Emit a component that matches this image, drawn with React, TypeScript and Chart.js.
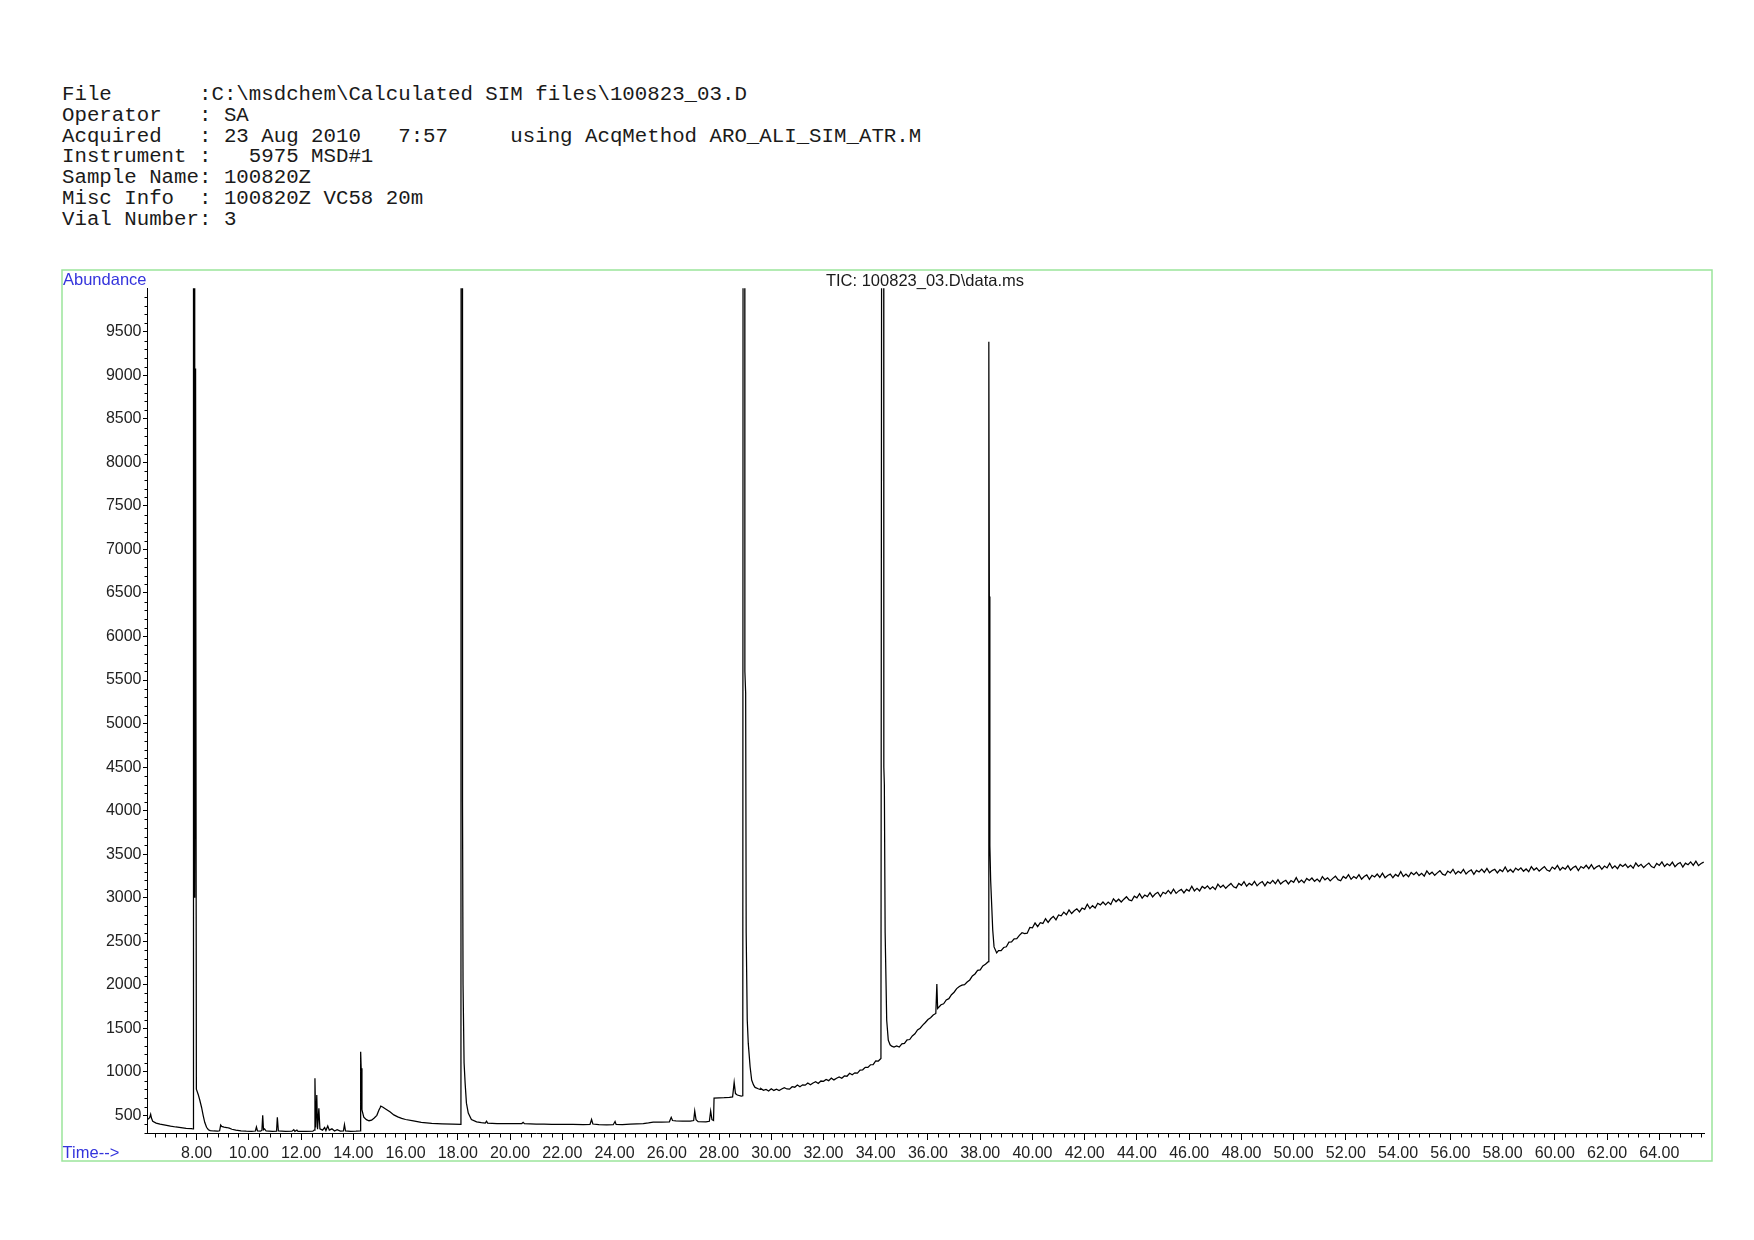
import React, { useEffect, useRef } from "react";
import { Chart, registerables } from "chart.js";

Chart.register(...registerables);

// ---------- header text ----------
const headerLines: string[] = [
  "File       :C:\\msdchem\\Calculated SIM files\\100823_03.D",
  "Operator   : SA",
  "Acquired   : 23 Aug 2010   7:57     using AcqMethod ARO_ALI_SIM_ATR.M",
  "Instrument :   5975 MSD#1",
  "Sample Name: 100820Z",
  "Misc Info  : 100820Z VC58 20m",
  "Vial Number: 3",
];
const chartTitle = "TIC: 100823_03.D\\data.ms";
const yAxisTitle = "Abundance";
const xAxisTitle = "Time-->";

// ---------- axes ----------
const xTickLabels: number[] = [8, 10, 12, 14, 16, 18, 20, 22, 24, 26, 28, 30, 32, 34, 36, 38, 40, 42, 44, 46, 48, 50, 52, 54, 56, 58, 60, 62, 64];
const yTickLabels: number[] = [500, 1000, 1500, 2000, 2500, 3000, 3500, 4000, 4500, 5000, 5500, 6000, 6500, 7000, 7500, 8000, 8500, 9000, 9500];
const xRange = [6.1, 65.73];
const yRange = [297, 10000];
const xMinorStep = 0.4;
const yMinorStep = 100;

// ---------- TIC trace, [time (min), abundance] ----------
const startBaseline: [number, number][] = [
  [6.1, 452], [6.15, 458], [6.2, 472], [6.24, 512], [6.27, 468], [6.32, 432], [6.45, 410], [6.6, 398],
  [6.8, 388], [7.0, 376], [7.2, 366], [7.4, 358], [7.6, 351], [7.8, 346], [7.87, 343],
];
const peak8: [number, number][] = [
  [7.88, 20000], [7.91, 20000], [7.92, 9800], [7.935, 3000], [7.96, 9080], [7.99, 800],
  [8.06, 740], [8.12, 676], [8.19, 590], [8.25, 500], [8.31, 420], [8.38, 363], [8.45, 335], [8.52, 324],
];
const earlyMinor: [number, number][] = [
  [8.65, 320], [8.8, 318], [8.88, 322], [8.92, 389], [8.96, 372], [9.05, 365], [9.15, 360], [9.25, 352],
  [9.35, 340], [9.5, 330], [9.7, 322], [9.9, 318], [10.1, 316], [10.25, 320], [10.29, 366], [10.33, 322],
  [10.45, 318], [10.5, 330], [10.53, 500], [10.56, 335], [10.6, 345], [10.66, 320], [10.9, 316], [11.06, 318],
  [11.09, 477], [11.13, 320], [11.4, 315], [11.65, 318], [11.72, 335], [11.76, 316], [11.84, 330], [11.88, 315],
  [12.2, 316], [12.45, 318], [12.5, 330], [12.53, 925], [12.56, 360], [12.6, 733], [12.63, 340], [12.68, 580],
  [12.72, 345], [12.82, 330], [12.9, 360], [12.95, 325], [13.02, 377], [13.08, 330], [13.18, 345], [13.28, 320],
  [13.38, 335], [13.5, 318], [13.62, 320], [13.66, 394], [13.7, 320], [13.9, 316], [14.1, 318], [14.26, 322],
];
const peak14: [number, number][] = [
  [14.28, 1230], [14.3, 1040], [14.33, 561], [14.4, 480], [14.5, 450], [14.6, 438], [14.7, 445], [14.8, 470],
  [14.9, 500], [14.98, 560], [15.02, 585], [15.05, 606], [15.12, 595], [15.25, 570], [15.4, 540], [15.55, 505],
  [15.7, 482], [15.85, 465], [16.0, 452], [16.3, 435], [16.6, 420], [17.0, 408], [17.4, 402], [17.8, 398], [18.12, 395],
];
const peak18: [number, number][] = [
  [18.13, 20000], [18.17, 20000], [18.18, 4100], [18.2, 2000], [18.24, 1100], [18.28, 867], [18.33, 640],
  [18.4, 525], [18.52, 452], [18.72, 425], [18.9, 415], [19.05, 410], [19.1, 433], [19.14, 410], [19.5, 405],
  [19.9, 406], [20.2, 404], [20.45, 406], [20.5, 420], [20.55, 404], [21.0, 400], [21.3, 398], [21.6, 396],
  [22.0, 397], [22.4, 395], [22.8, 394], [23.06, 396], [23.12, 452], [23.17, 400], [23.4, 392], [23.7, 390],
  [23.95, 392], [24.02, 429], [24.06, 395], [24.3, 393], [24.6, 398], [24.85, 402], [25.1, 405], [25.3, 412],
  [25.48, 421], [25.8, 423], [26.1, 425], [26.17, 477], [26.22, 440], [26.35, 435], [26.6, 433], [26.9, 434],
  [27.03, 440], [27.07, 549], [27.12, 450], [27.2, 428], [27.5, 425], [27.63, 432], [27.68, 549], [27.73, 450],
  [27.79, 440], [27.81, 698], [28.0, 700], [28.2, 702], [28.4, 706], [28.52, 712], [28.58, 879], [28.63, 750],
  [28.7, 733], [28.85, 721], [28.91, 725],
];
const peak29: [number, number][] = [
  [28.93, 20000], [28.98, 20000], [28.99, 5600], [29.02, 5350], [29.04, 2600], [29.08, 1600], [29.12, 1326],
  [29.19, 1058], [29.25, 905], [29.32, 850], [29.38, 821], [29.5, 805], [29.57, 798],
  [29.6, 809], [29.7, 787], [29.8, 798], [29.9, 780], [30.0, 806], [30.1, 786], [30.2, 799], [30.3, 784],
  [30.4, 802], [30.5, 818], [30.6, 803], [30.7, 800], [30.8, 829], [30.9, 823], [31.0, 849], [31.1, 828],
  [31.2, 850], [31.3, 846], [31.4, 872], [31.5, 852], [31.6, 872], [31.7, 886], [31.8, 866], [31.9, 894],
  [32.0, 890], [32.1, 912], [32.2, 898], [32.3, 927], [32.4, 907], [32.5, 926], [32.6, 940], [32.7, 926],
  [32.8, 952], [32.9, 949], [33.0, 983], [33.1, 966], [33.2, 988], [33.3, 984], [33.4, 1020], [33.5, 1023],
  [33.6, 1051], [33.7, 1051], [33.8, 1081], [33.9, 1082], [34.0, 1125], [34.1, 1124], [34.2, 1152],
];
const peak34: [number, number][] = [
  [34.25, 20000], [34.3, 20000], [34.31, 4500], [34.33, 4300], [34.36, 2600], [34.42, 1593], [34.48, 1364],
  [34.55, 1310], [34.61, 1295], [34.7, 1285], [34.8, 1297], [34.9, 1284], [35.0, 1322], [35.1, 1326],
  [35.2, 1366], [35.3, 1371], [35.4, 1412], [35.5, 1436], [35.6, 1481], [35.7, 1500], [35.8, 1536],
  [35.9, 1566], [36.0, 1601], [36.1, 1621], [36.2, 1652], [36.3, 1670], [36.34, 2007], [36.37, 1727],
  [36.5, 1770], [36.6, 1781], [36.7, 1826], [36.8, 1840], [36.9, 1886], [37.0, 1914], [37.1, 1956],
  [37.2, 1980], [37.3, 1996], [37.4, 2001], [37.5, 2031], [37.6, 2055], [37.7, 2101], [37.8, 2124],
  [37.9, 2166], [38.0, 2170], [38.1, 2216], [38.2, 2236], [38.31, 2265],
];
const peak38: [number, number][] = [
  [38.33, 9385], [38.35, 6460], [38.37, 3600], [38.4, 3200], [38.48, 2626], [38.53, 2435], [38.63, 2366],
];
const plateau: [number, number][] = [
  [38.7, 2391], [38.8, 2391], [38.9, 2428], [39.0, 2436], [39.1, 2489], [39.2, 2491], [39.3, 2526], [39.4, 2530],
  [39.5, 2567], [39.6, 2597], [39.7, 2588], [39.8, 2592], [39.9, 2659], [40.0, 2654], [40.1, 2709], [40.2, 2668],
  [40.3, 2712], [40.4, 2704], [40.5, 2758], [40.6, 2717], [40.7, 2758], [40.8, 2786], [40.9, 2745], [41.0, 2802],
  [41.1, 2792], [41.2, 2834], [41.3, 2804], [41.4, 2860], [41.5, 2818], [41.6, 2850], [41.7, 2872], [41.8, 2836],
  [41.9, 2881], [42.0, 2866], [42.1, 2925], [42.2, 2875], [42.3, 2908], [42.4, 2882], [42.5, 2936], [42.6, 2918],
  [42.7, 2951], [42.8, 2918], [42.9, 2949], [43.0, 2923], [43.1, 2987], [43.2, 2953], [43.3, 2982], [43.4, 2950],
  [43.5, 2983], [43.6, 3011], [43.7, 2975], [43.8, 2965], [43.9, 3018], [44.0, 2999], [44.1, 3045], [44.2, 2995],
  [44.3, 3030], [44.4, 3013], [44.5, 3058], [44.6, 3009], [44.7, 3042], [44.8, 3062], [44.9, 3013], [45.0, 3062],
  [45.1, 3046], [45.2, 3083], [45.3, 3047], [45.4, 3098], [45.5, 3050], [45.6, 3078], [45.7, 3095], [45.8, 3055],
  [45.9, 3095], [46.0, 3076], [46.1, 3132], [46.2, 3078], [46.3, 3108], [46.4, 3078], [46.5, 3129], [46.6, 3107],
  [46.7, 3136], [46.8, 3098], [46.9, 3125], [47.0, 3095], [47.1, 3156], [47.2, 3118], [47.3, 3144], [47.4, 3108],
  [47.5, 3138], [47.6, 3164], [47.7, 3125], [47.8, 3113], [47.9, 3163], [48.0, 3142], [48.1, 3185], [48.2, 3132],
  [48.3, 3164], [48.4, 3145], [48.5, 3187], [48.6, 3136], [48.7, 3167], [48.8, 3185], [48.9, 3135], [49.0, 3182],
  [49.1, 3164], [49.2, 3198], [49.3, 3160], [49.4, 3208], [49.5, 3158], [49.6, 3184], [49.7, 3200], [49.8, 3158],
  [49.9, 3197], [50.0, 3176], [50.1, 3230], [50.2, 3175], [50.3, 3203], [50.4, 3172], [50.5, 3221], [50.6, 3198],
  [50.7, 3226], [50.8, 3188], [50.9, 3214], [51.0, 3183], [51.1, 3243], [51.2, 3205], [51.3, 3229], [51.4, 3193],
  [51.5, 3222], [51.6, 3247], [51.7, 3207], [51.8, 3194], [51.9, 3244], [52.0, 3222], [52.1, 3265], [52.2, 3211],
  [52.3, 3243], [52.4, 3223], [52.5, 3264], [52.6, 3213], [52.7, 3244], [52.8, 3261], [52.9, 3210], [53.0, 3257],
  [53.1, 3238], [53.2, 3272], [53.3, 3233], [53.4, 3281], [53.5, 3230], [53.6, 3256], [53.7, 3271], [53.8, 3229],
  [53.9, 3267], [54.0, 3246], [54.1, 3300], [54.2, 3244], [54.3, 3272], [54.4, 3240], [54.5, 3289], [54.6, 3265],
  [54.7, 3293], [54.8, 3254], [54.9, 3280], [55.0, 3248], [55.1, 3307], [55.2, 3269], [55.3, 3293], [55.4, 3257],
  [55.5, 3285], [55.6, 3310], [55.7, 3270], [55.8, 3257], [55.9, 3306], [56.0, 3284], [56.1, 3326], [56.2, 3272],
  [56.3, 3304], [56.4, 3283], [56.5, 3324], [56.6, 3272], [56.7, 3302], [56.8, 3320], [56.9, 3268], [57.0, 3314],
  [57.1, 3295], [57.2, 3328], [57.3, 3290], [57.4, 3337], [57.5, 3286], [57.6, 3311], [57.7, 3326], [57.8, 3284],
  [57.9, 3322], [58.0, 3300], [58.1, 3353], [58.2, 3297], [58.3, 3324], [58.4, 3292], [58.5, 3340], [58.6, 3316],
  [58.7, 3343], [58.8, 3304], [58.9, 3330], [59.0, 3298], [59.1, 3357], [59.2, 3318], [59.3, 3342], [59.4, 3305],
  [59.5, 3333], [59.6, 3357], [59.7, 3317], [59.8, 3303], [59.9, 3352], [60.0, 3329], [60.1, 3371], [60.2, 3317],
  [60.3, 3348], [60.4, 3327], [60.5, 3368], [60.6, 3316], [60.7, 3346], [60.8, 3363], [60.9, 3311], [61.0, 3358],
  [61.1, 3339], [61.2, 3372], [61.3, 3333], [61.4, 3380], [61.5, 3329], [61.6, 3354], [61.7, 3369], [61.8, 3326],
  [61.9, 3364], [62.0, 3342], [62.1, 3395], [62.2, 3339], [62.3, 3366], [62.4, 3334], [62.5, 3382], [62.6, 3358],
  [62.7, 3385], [62.8, 3346], [62.9, 3371], [63.0, 3339], [63.1, 3398], [63.2, 3359], [63.3, 3383], [63.4, 3346],
  [63.5, 3374], [63.6, 3398], [63.7, 3358], [63.8, 3344], [63.9, 3393], [64.0, 3370], [64.1, 3412], [64.2, 3358],
  [64.3, 3389], [64.4, 3368], [64.5, 3409], [64.6, 3357], [64.7, 3387], [64.8, 3404], [64.9, 3352], [65.0, 3397],
  [65.1, 3378], [65.2, 3411], [65.3, 3372], [65.4, 3419], [65.5, 3368], [65.6, 3393], [65.7, 3408],
];

const ticTrace: [number, number][] = [
  ...startBaseline, ...peak8, ...earlyMinor, ...peak14, ...peak18, ...peak29, ...peak34, ...peak38, ...plateau,
];

// ---------- layout (page pixels) ----------
const CANVAS_LEFT = 61;
const CANVAS_TOP = 269;
const CANVAS_W = 1652;
const CANVAS_H = 893;

const sansFont = "'Liberation Sans', Arial, sans-serif";
const monoFont = "'Liberation Mono', 'Courier New', monospace";
const blue = "#3434dc";

const frameAndMinorTicks = {
  id: "frameAndMinorTicks",
  beforeDraw(chart: any) {
    const ctx = chart.ctx;
    ctx.save();
    ctx.fillStyle = "#ffffff";
    ctx.fillRect(0, 0, chart.width, chart.height);
    ctx.strokeStyle = "#9be59b";
    ctx.lineWidth = 1.5;
    ctx.strokeRect(1, 1, chart.width - 2, chart.height - 2);
    ctx.restore();
  },
  afterDraw(chart: any) {
    const ctx = chart.ctx;
    const xs = chart.scales.x;
    const ys = chart.scales.y;
    const area = chart.chartArea;
    ctx.save();
    ctx.strokeStyle = "#000";
    ctx.lineWidth = 1;
    ctx.beginPath();
    for (let i = 0; ; i++) {
      const v = Math.ceil(yRange[0] / yMinorStep) * yMinorStep + i * yMinorStep;
      if (v > yRange[1]) break;
      if (v % 500 === 0) continue;
      const py = Math.round(ys.getPixelForValue(v)) + 0.5;
      ctx.moveTo(area.left - 2.5, py);
      ctx.lineTo(area.left, py);
    }
    for (let i = 0; ; i++) {
      const t = Math.ceil(xRange[0] / xMinorStep) * xMinorStep + i * xMinorStep;
      if (t > xRange[1]) break;
      const r = Math.round(t * 10) / 10;
      if (Math.abs(r / 2 - Math.round(r / 2)) < 1e-6) continue;
      const px = Math.round(xs.getPixelForValue(r)) + 0.5;
      ctx.moveTo(px, area.bottom);
      ctx.lineTo(px, area.bottom + 4.5);
    }
    ctx.stroke();
    ctx.restore();
  },
};

function TicChart() {
  const ref = useRef<HTMLCanvasElement | null>(null);
  useEffect(() => {
    if (!ref.current) return;
    const chart = new Chart(ref.current, {
      type: "line",
      data: {
        datasets: [
          {
            data: ticTrace.map(([x, y]) => ({ x, y })),
            borderColor: "#000",
            borderWidth: 1.25,
            pointRadius: 0,
            tension: 0,
            fill: false,
            clip: 0,
          } as any,
        ],
      },
      options: {
        responsive: false,
        animation: false,
        events: [],
        layout: { padding: { left: 0, top: 19.3, right: 8.5, bottom: 0 } },
        plugins: { legend: { display: false }, tooltip: { enabled: false }, title: { display: false } },
        scales: {
          x: {
            type: "linear",
            min: xRange[0],
            max: xRange[1],
            afterBuildTicks: (s: any) => {
              s.ticks = xTickLabels.map((v) => ({ value: v }));
            },
            afterFit: (s: any) => {
              s.height = 29;
            },
            ticks: {
              callback: (v: any) => Number(v).toFixed(2),
              font: { family: sansFont, size: 16 },
              color: "#222",
              padding: 4,
              maxRotation: 0,
              autoSkip: false,
            },
            grid: { drawOnChartArea: false, drawTicks: true, tickLength: 7, color: "#000", tickColor: "#000" },
            border: { display: true, color: "#000", width: 1 },
          },
          y: {
            type: "linear",
            min: yRange[0],
            max: yRange[1],
            afterBuildTicks: (s: any) => {
              s.ticks = yTickLabels.map((v) => ({ value: v }));
            },
            afterFit: (s: any) => {
              s.width = 86;
            },
            ticks: {
              callback: (v: any) => String(v),
              font: { family: sansFont, size: 16 },
              color: "#222",
              padding: 1.5,
              autoSkip: false,
            },
            grid: { drawOnChartArea: false, drawTicks: true, tickLength: 4, color: "#000", tickColor: "#000" },
            border: { display: true, color: "#000", width: 1 },
          },
        },
      },
      plugins: [frameAndMinorTicks],
    } as any);
    return () => chart.destroy();
  }, []);
  return (
    <canvas
      ref={ref}
      width={CANVAS_W}
      height={CANVAS_H}
      style={{ position: "absolute", left: CANVAS_LEFT, top: CANVAS_TOP, width: CANVAS_W, height: CANVAS_H }}
    />
  );
}

export default function App() {
  return (
    <div style={{ position: "absolute", left: 0, top: 0, width: 1754, height: 1240, background: "#fff", overflow: "hidden" }}>
      <div
        style={{
          position: "absolute",
          left: 62,
          top: 84.8,
          fontFamily: monoFont,
          fontSize: 20.75,
          lineHeight: "20.87px",
          whiteSpace: "pre",
          color: "#1a1a1a",
        }}
      >
        {headerLines.join("\n")}
      </div>
      <TicChart />
      <div style={{ position: "absolute", left: 63, top: 271.4, fontFamily: sansFont, fontSize: 16.5, lineHeight: 1, color: blue }}>
        {yAxisTitle}
      </div>
      <div
        style={{
          position: "absolute",
          left: 725,
          width: 400,
          top: 271.5,
          textAlign: "center",
          fontFamily: sansFont,
          fontSize: 16.5,
          lineHeight: 1,
          color: "#1a1a1a",
        }}
      >
        {chartTitle}
      </div>
      <div style={{ position: "absolute", left: 62.6, top: 1144, fontFamily: sansFont, fontSize: 16.5, lineHeight: 1, color: blue }}>
        {xAxisTitle}
      </div>
    </div>
  );
}
